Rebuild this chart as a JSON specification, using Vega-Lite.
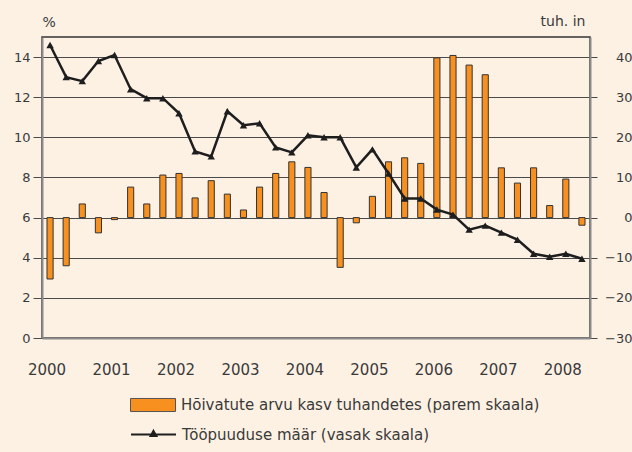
{
  "$schema": "https://vega.github.io/schema/vega-lite/v6.json",
  "autosize": {"type": "none"},
  "width": 548,
  "height": 301,
  "padding": {"left": 42, "top": 37, "right": 42, "bottom": 114},
  "background": "#FDF1E4",
  "config": {
    "view": {"stroke": "#333333", "strokeWidth": 1.5, "fill": "#FDF1E4"},
    "font": "DejaVu Sans",
    "axis": {"labelFont": "DejaVu Sans", "titleFont": "DejaVu Sans", "labelColor": "#3a3a3a", "titleColor": "#3a3a3a", "titleFontWeight": "normal"},
    "legend": {"labelFont": "DejaVu Sans", "labelColor": "#3a3a3a", "padding": 0, "labelLimit": 600}
  },
  "data": {"values": [
    {"q": "2000Q1", "u": 14.6, "e": -15.3},
    {"q": "2000Q2", "u": 13.0, "e": -12.0},
    {"q": "2000Q3", "u": 12.8, "e": 3.4},
    {"q": "2000Q4", "u": 13.8, "e": -3.8},
    {"q": "2001Q1", "u": 14.1, "e": -0.5},
    {"q": "2001Q2", "u": 12.4, "e": 7.6},
    {"q": "2001Q3", "u": 11.95, "e": 3.4},
    {"q": "2001Q4", "u": 11.95, "e": 10.6},
    {"q": "2002Q1", "u": 11.2, "e": 11.0},
    {"q": "2002Q2", "u": 9.3, "e": 4.9},
    {"q": "2002Q3", "u": 9.05, "e": 9.2},
    {"q": "2002Q4", "u": 11.3, "e": 5.85},
    {"q": "2003Q1", "u": 10.6, "e": 1.9},
    {"q": "2003Q2", "u": 10.7, "e": 7.6},
    {"q": "2003Q3", "u": 9.5, "e": 11.0},
    {"q": "2003Q4", "u": 9.25, "e": 13.9},
    {"q": "2004Q1", "u": 10.1, "e": 12.5},
    {"q": "2004Q2", "u": 10.0, "e": 6.25},
    {"q": "2004Q3", "u": 10.0, "e": -12.4},
    {"q": "2004Q4", "u": 8.5, "e": -1.3},
    {"q": "2005Q1", "u": 9.4, "e": 5.3},
    {"q": "2005Q2", "u": 8.2, "e": 13.9},
    {"q": "2005Q3", "u": 6.95, "e": 14.9},
    {"q": "2005Q4", "u": 6.95, "e": 13.5},
    {"q": "2006Q1", "u": 6.4, "e": 39.8},
    {"q": "2006Q2", "u": 6.15, "e": 40.4},
    {"q": "2006Q3", "u": 5.4, "e": 38.0},
    {"q": "2006Q4", "u": 5.6, "e": 35.6},
    {"q": "2007Q1", "u": 5.25, "e": 12.4},
    {"q": "2007Q2", "u": 4.9, "e": 8.6},
    {"q": "2007Q3", "u": 4.2, "e": 12.4},
    {"q": "2007Q4", "u": 4.05, "e": 3.0},
    {"q": "2008Q1", "u": 4.2, "e": 9.6},
    {"q": "2008Q2", "u": 3.95, "e": -1.9}
  ]},
  "encoding": {
    "x": {"field": "q", "type": "ordinal", "sort": null,
      "scale": {"paddingInner": 0.62, "paddingOuter": 0.31},
      "axis": {"title": null, "ticks": false, "tickSize": 0, "labelAngle": 0, "labelFontSize": 15, "labelOverlap": false,
        "labelExpr": "indexof(datum.value, 'Q1') > 0 ? slice(datum.value, 0, 4) : ''",
        "labelBaseline": "alphabetic", "labelPadding": 36, "labelOffset": -3,
        "domainColor": "#8c8c8c", "domainWidth": 2, "grid": false}}
  },
  "layer": [
    {
      "mark": {"type": "bar", "stroke": "#333333", "strokeWidth": 1},
      "encoding": {
        "y": {"field": "e", "type": "quantitative",
          "scale": {"domain": [-30, 45], "nice": false, "zero": true},
          "axis": {"orient": "right", "values": [-30, -20, -10, 0, 10, 20, 30, 40], "grid": false,
            "labelExpr": "replace(format(datum.value, 'd'), '-', '\u2212')",
            "labelFontSize": 13, "labelAlign": "right", "labelPadding": 35, "tickSize": 7, "tickColor": "#4a4a4a",
            "domainColor": "#8c8c8c", "domainWidth": 2,
            "title": "tuh. in", "titleFontSize": 14, "titleAngle": 0, "titleAlign": "right", "titleBaseline": "alphabetic", "titleX": -5, "titleY": -12}},
        "fill": {"datum": "Hõivatute arvu kasv tuhandetes (parem skaala)", "type": "nominal",
          "scale": {"range": ["#F7901E"]},
          "legend": {"title": null, "orient": "none", "legendX": 88, "legendY": 345,
            "symbolType": "M-1,-0.29H1V0.29H-1Z", "symbolSize": 2025, "symbolStrokeColor": "#555555", "symbolStrokeWidth": 1,
            "labelFontSize": 15, "labelOffset": 5, "labelLimit": 600}}
      }
    },
    {
      "encoding": {
        "y": {"field": "u", "type": "quantitative",
          "scale": {"domain": [0, 15], "nice": false},
          "axis": {"orient": "left", "values": [0, 2, 4, 6, 8, 10, 12, 14], "grid": true, "gridColor": "#4a4a4a", "gridWidth": 1,
            "labelFontSize": 13, "labelPadding": 3, "tickSize": 9, "tickColor": "#4a4a4a",
            "domainColor": "#8c8c8c", "domainWidth": 2,
            "title": "%", "titleFontSize": 14, "titleAngle": 0, "titleAlign": "left", "titleBaseline": "alphabetic", "titleX": 0, "titleY": -11}}
      },
      "layer": [
        {
          "mark": {"type": "line", "strokeWidth": 2.5, "strokeJoin": "miter"},
          "encoding": {
            "stroke": {"datum": "Tööpuuduse määr (vasak skaala)", "type": "nominal",
              "scale": {"range": ["#1e1e1e"]},
              "legend": {"title": null, "orient": "none", "legendX": 88, "legendY": 374,
                "symbolType": "M-1,0H1M0,-0.16L0.13,0.07L-0.13,0.07Z", "symbolSize": 2025, "symbolStrokeWidth": 2,
                "labelFontSize": 15, "labelOffset": 5, "labelLimit": 600,
                "encode": {"symbols": {"update": {"fill": {"value": "#1e1e1e"}}}}}}
          }
        },
        {
          "mark": {"type": "point", "shape": "triangle-up", "filled": true, "size": 55, "color": "#1e1e1e", "opacity": 1}
        }
      ]
    }
  ],
  "resolve": {"scale": {"y": "independent"}}
}
